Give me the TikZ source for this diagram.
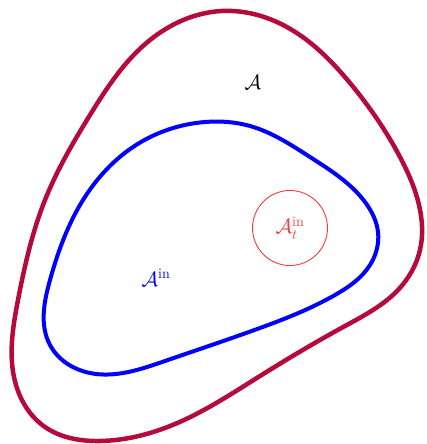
\documentclass[tikz,border=0pt]{standalone}
\usepackage{amsmath}
\usetikzlibrary{hobby}
\definecolor{outerc}{RGB}{180,10,60}
\definecolor{circc}{RGB}{240,60,60}
\begin{document}
\begin{tikzpicture}[x=1pt,y=-1pt, lbl/.style={font=\huge, inner sep=1pt}]
\useasboundingbox (0,0) rectangle (427,444);
\draw[outerc, line width=4.5pt, use Hobby shortcut, closed=true]
 (222,11) .. (150,40) .. (90,115) .. (45,200) .. (18,300) .. (16,385) .. (45,427) .. (100,441) .. (175,424) .. (260,376) .. (345,326) .. (398,290) .. (420,250) .. (419,205) .. (400,157) .. (350,83) .. (285,26);
\draw[blue, line width=4pt, use Hobby shortcut, closed=true]
 (205,122) .. (133,147) .. (80,205) .. (50,280) .. (50,345) .. (90,373) .. (165,361) .. (260,328) .. (335,295) .. (370,265) .. (378,232) .. (365,202) .. (310,157) .. (250,126);
\node[circle, draw=circc, line width=0.9pt, minimum size=75pt, inner sep=0pt, lbl, text=circc] (c) at (290,228) {$\mathcal{A}_t^{\text{in}}$};
\node[lbl] (la) at (253,82) {$\mathcal{A}$};
\node[lbl, text=blue] (li) at (156,278) {$\mathcal{A}^{\text{in}}$};
\end{tikzpicture}
\end{document}
